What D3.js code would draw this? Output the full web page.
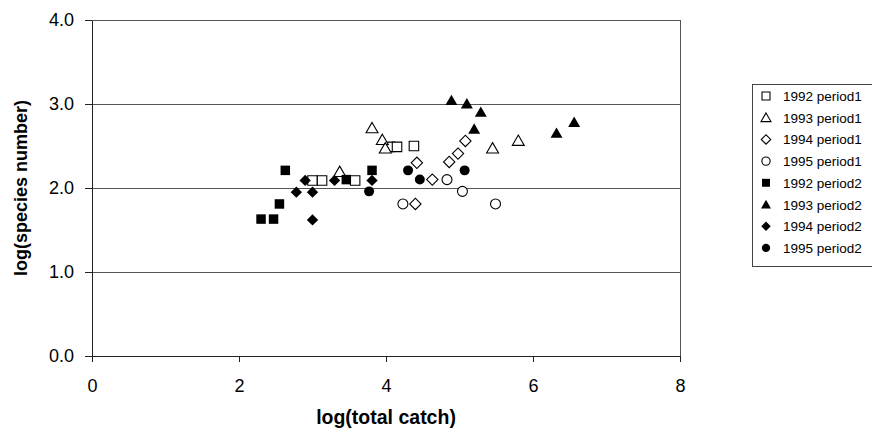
<html>
<head>
<script src="https://d3js.org/d3.v7.min.js"></script>
<style>
body { margin: 0; background: #fff; }
text { font-family: 'Liberation Sans', Arial, sans-serif; fill: #000; }
</style>
</head>
<body>
<div id="plot"></div>
<script>
var width = 872;
var height = 430;

// x = log(total catch), y = log(species number)
var p1992a = [[3.00, 2.09], [3.13, 2.09], [3.58, 2.09], [4.05, 2.49], [4.15, 2.49], [4.38, 2.50]];
var p1993a = [[3.37, 2.19], [3.81, 2.71], [3.95, 2.57], [3.99, 2.47], [5.45, 2.47], [5.80, 2.56]];
var p1994a = [[4.40, 1.81], [4.42, 2.30], [4.63, 2.10], [4.86, 2.31], [4.98, 2.41], [5.08, 2.56]];
var p1995a = [[4.23, 1.81], [4.83, 2.10], [5.04, 1.96], [5.49, 1.81]];
var p1992b = [[2.30, 1.63], [2.47, 1.63], [2.55, 1.81], [2.63, 2.21], [3.46, 2.10], [3.81, 2.21]];
var p1993b = [[4.89, 3.04], [5.10, 3.00], [5.20, 2.70], [5.29, 2.90], [6.32, 2.65], [6.56, 2.78]];
var p1994b = [[2.78, 1.95], [2.90, 2.09], [3.00, 1.95], [3.00, 1.62], [3.30, 2.09], [3.81, 2.09]];
var p1995b = [[3.77, 1.96], [4.30, 2.21], [4.46, 2.10], [5.07, 2.21]];

var seriesNames = ["1992 period1", "1993 period1", "1994 period1", "1995 period1",
                   "1992 period2", "1993 period2", "1994 period2", "1995 period2"];
var seriesData = [p1992a, p1993a, p1994a, p1995a, p1992b, p1993b, p1994b, p1995b];
var shapes = ["square", "triangle", "diamond", "circle", "square", "triangle", "diamond", "circle"];
var filled = [false, false, false, false, true, true, true, true];

var xTicks = [0, 2, 4, 6, 8];
var yTicks = [0, 1, 2, 3, 4];

var xScale = d3.scaleLinear().domain([0, 8]).range([92, 680]);
var yScale = d3.scaleLinear().domain([0, 4]).range([356, 20]);

var svg = d3.select("#plot").append("svg")
  .attr("width", width).attr("height", height);

// gridlines
svg.append("g").selectAll("line").data(yTicks.slice(1)).enter().append("line")
  .attr("x1", xScale(0)).attr("x2", xScale(8))
  .attr("y1", d => yScale(d)).attr("y2", d => yScale(d))
  .style("stroke", "#555").style("stroke-width", 1).attr("shape-rendering", "crispEdges");

// right border
svg.append("line")
  .attr("x1", xScale(8)).attr("x2", xScale(8))
  .attr("y1", yScale(4)).attr("y2", yScale(0))
  .style("stroke", "#555").attr("shape-rendering", "crispEdges");

var xAxis = d3.axisBottom(xScale).tickValues(xTicks).tickSize(6).tickSizeOuter(0).tickPadding(17);
var gx = svg.append("g").attr("transform", "translate(0," + yScale(0) + ")").call(xAxis);

var yAxis = d3.axisLeft(yScale).tickValues(yTicks).tickFormat(d3.format(".1f"))
  .tickSize(7).tickSizeOuter(0).tickPadding(11);
var gy = svg.append("g").attr("transform", "translate(" + xScale(0) + ",0)").call(yAxis);

[gx, gy].forEach(function (g) {
  g.selectAll("path, line").style("stroke", "#222").attr("shape-rendering", "crispEdges");
  g.selectAll("text").style("font-size", "18px").style("font-family", "'Liberation Sans', Arial, sans-serif");
});

svg.append("text").attr("x", 386).attr("y", 424)
  .attr("text-anchor", "middle").style("font-size", "19.5px").style("font-weight", "bold")
  .text("log(total catch)");

svg.append("text").attr("transform", "translate(27,188) rotate(-90)")
  .attr("text-anchor", "middle").style("font-size", "18px").style("font-weight", "bold")
  .text("log(species number)");

function symbolPath(shape, k) {
  if (shape === "square") return d3.symbol().type(d3.symbolSquare).size(90 * k)();
  if (shape === "triangle") return d3.symbol().type(d3.symbolTriangle).size(62 * k)();
  if (shape === "diamond") return d3.symbol().type(d3.symbolSquare).size(64 * k)();
  return d3.symbol().type(d3.symbolCircle).size(78 * k)();
}

function drawMarker(g, shape, isFilled, x, y, k) {
  var rot = shape === "diamond" ? " rotate(45)" : "";
  var dy = shape === "triangle" ? 1 : 0;
  g.append("path")
    .attr("d", symbolPath(shape, k))
    .attr("transform", "translate(" + x + "," + (y + dy) + ")" + rot)
    .style("fill", isFilled ? "#000" : "#fff")
    .style("stroke", "#000")
    .style("stroke-width", isFilled ? 0 : 1.1);
}

seriesData.forEach(function (data, i) {
  var g = svg.append("g");
  data.forEach(function (d) {
    drawMarker(g, shapes[i], filled[i], xScale(d[0]), yScale(d[1]), 1);
  });
});

// legend
var legend = svg.append("g");
legend.append("rect")
  .attr("x", 752.5).attr("y", 84.5).attr("width", 125).attr("height", 182)
  .style("fill", "#fff").style("stroke", "#444");

seriesNames.forEach(function (name, i) {
  var y = 96 + i * 21.7;
  var g = legend.append("g");
  drawMarker(g, shapes[i], filled[i], 766, y, 0.7);
  g.append("text").attr("x", 783).attr("y", y + 5)
    .style("font-size", "13.5px").text(name);
});
</script>
</body>
</html>
